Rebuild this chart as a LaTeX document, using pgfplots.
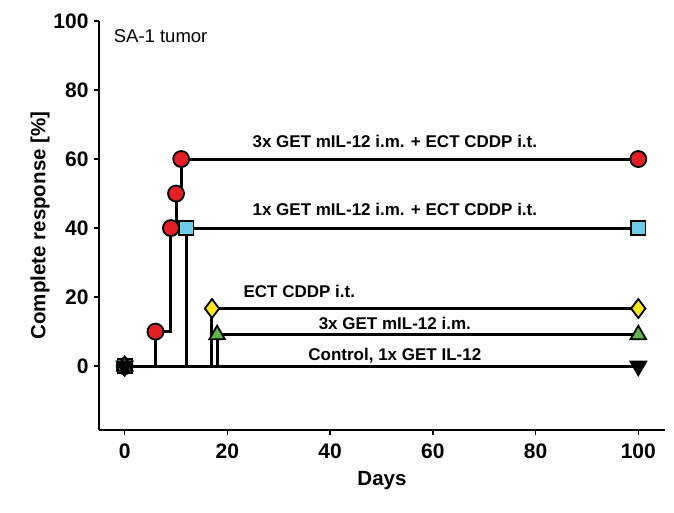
\documentclass[border=0pt]{standalone}
\usepackage{fontspec}
\setmainfont{Liberation Sans}
\usepackage{pgfplots}
\pgfplotsset{compat=1.18}
\definecolor{cred}{HTML}{E41F26}
\definecolor{cblue}{HTML}{6CCDE8}
\definecolor{cyellow}{HTML}{F8E81C}
\definecolor{cgreen}{HTML}{5DB848}
\pgfplotsset{stepline/.style={black, line width=3pt, const plot}}
\begin{document}
\begin{tikzpicture}[x=1pt,y=1pt]
\begin{axis}[
  scale only axis,
  width=566pt, height=409pt,
  xmin=-5, xmax=105.2, ymin=-18.5, ymax=100,
  axis x line=bottom, axis y line=left,
  axis line style={-, line width=1.8pt},
  tick align=outside, major tick length=5pt,
  tick style={line width=1.4pt, black},
  xtick={0,20,...,100}, ytick={0,20,...,100},
  /pgf/number format/assume math mode=true,
  ticklabel style={font=\fontsize{21}{23}\selectfont\bfseries},
  xticklabel style={yshift=-5pt},
  yticklabel style={xshift=-2pt},
  xlabel={Days}, ylabel={Complete response [\%]},
  label style={font=\fontsize{20.5}{23}\selectfont\bfseries},
  xlabel style={yshift=-6pt},
  ylabel style={yshift=-3pt},
  clip=false,
]
\coordinate (o) at (rel axis cs:0,0);
% Red: 3x GET mIL-12 i.m. + ECT CDDP i.t.
\addplot[stepline, mark=*, mark size=8pt, mark options={solid, line width=1.8pt, draw=black, fill=cred}] coordinates {(0,0) (6,10) (9,40) (10,50) (11,60) (100,60)};
% Blue: 1x GET mIL-12 i.m. + ECT CDDP i.t.
\addplot[stepline, mark=square*, mark size=7.2pt, mark options={solid, line width=1.8pt, draw=black, fill=cblue}] coordinates {(0,0) (12,40) (100,40)};
% Yellow: ECT CDDP i.t.
\addplot[stepline, mark=diamond*, mark size=9.5pt, mark options={solid, line width=1.8pt, draw=black, fill=cyellow}] coordinates {(0,0) (17,16.7) (100,16.7)};
% Green: 3x GET mIL-12 i.m.
\addplot[stepline, mark=triangle*, mark size=9pt, mark options={solid, line width=1.8pt, draw=black, fill=cgreen}] coordinates {(0,0) (18,9.1) (100,9.1)};
% Control
\addplot[stepline, mark=triangle*, mark size=9pt, mark options={solid, line width=1.8pt, draw=black, fill=black, rotate=180}] coordinates {(0,0) (100,0)};
\node[font=\fontsize{17}{19}\selectfont\bfseries, anchor=base] at (axis cs:52.6,63.4) {3x GET mIL-12 i.m. + ECT CDDP i.t.};
\node[font=\fontsize{17}{19}\selectfont\bfseries, anchor=base] at (axis cs:52.6,43.6) {1x GET mIL-12 i.m. + ECT CDDP i.t.};
\node[font=\fontsize{17}{19}\selectfont\bfseries, anchor=base] at (axis cs:34,19.8) {ECT CDDP i.t.};
\node[font=\fontsize{17}{19}\selectfont\bfseries, anchor=base] at (axis cs:52.6,10.5) {3x GET mIL-12 i.m.};
\node[font=\fontsize{17}{19}\selectfont\bfseries, anchor=base] at (axis cs:52.6,1.5) {Control, 1x GET IL-12};
\node[font=\fontsize{18.5}{20}\selectfont, anchor=base west] at (axis cs:-2.8,93.8) {SA-1 tumor};
\end{axis}
\path[use as bounding box] ([shift={(-99pt,-83pt)}]o) rectangle ++(674pt,513pt);
\end{tikzpicture}
\end{document}
